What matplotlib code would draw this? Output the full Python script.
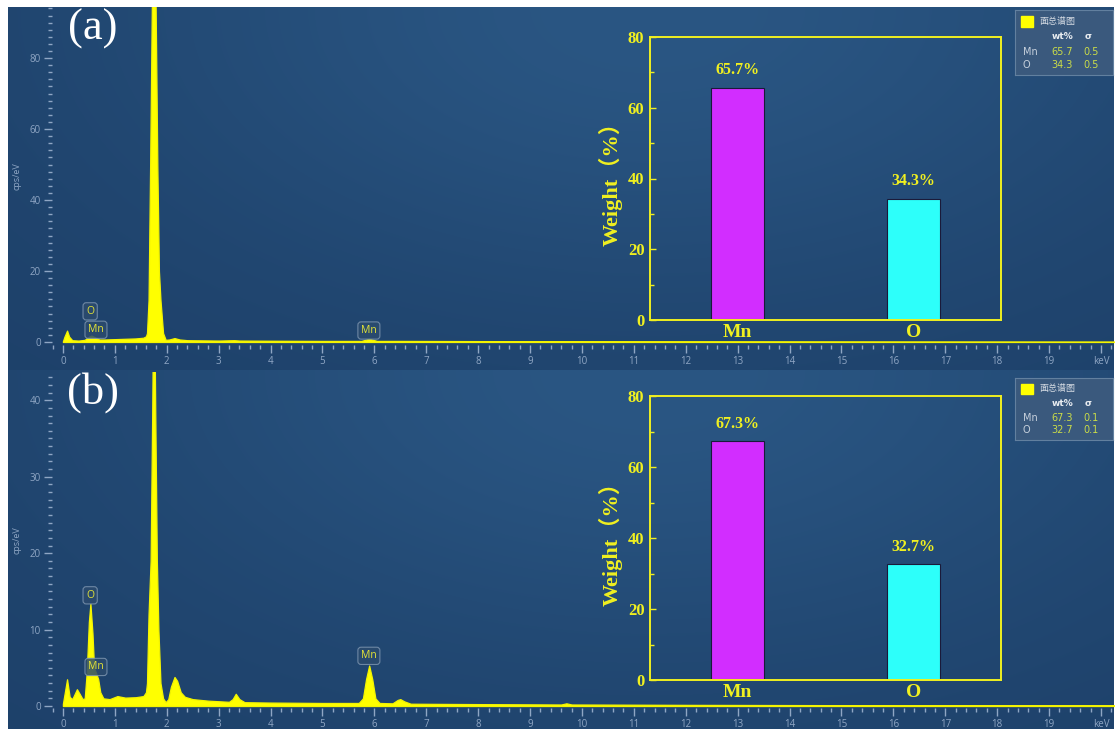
import numpy as np
import matplotlib
matplotlib.use("Agg")
import matplotlib.pyplot as plt
from matplotlib.patches import Rectangle
from matplotlib.ticker import MultipleLocator, FixedLocator

# EDS spectra (energy in keV, intensity in cps/eV), read point by point
energy_a = [0.0, 0.03, 0.08, 0.12, 0.18, 0.30, 0.42, 0.50, 0.55, 0.62, 0.70, 0.80,
            1.00, 1.20, 1.40, 1.55, 1.60, 1.62, 1.65, 1.68, 1.71, 1.75, 1.79, 1.82,
            1.85, 1.88, 1.93, 1.98, 2.05, 2.15, 2.25, 2.40, 3.00, 3.30, 3.40, 4.00,
            5.00, 5.75, 5.90, 6.05, 6.50, 8.00, 10.0, 15.0, 20.3]
counts_a = [0.2, 1.5, 3.2, 1.5, 0.5, 0.4, 0.6, 1.5, 1.8, 1.3, 0.7, 0.7,
            0.8, 0.9, 1.0, 1.2, 1.6, 2.5, 11.8, 49.0, 90.0, 140.0, 90.0, 49.0,
            20.0, 11.8, 2.5, 0.6, 0.7, 1.1, 0.7, 0.5, 0.4, 0.5, 0.4, 0.35,
            0.3, 0.3, 0.9, 0.3, 0.3, 0.25, 0.2, 0.15, 0.1]

energy_b = [0.0, 0.03, 0.08, 0.13, 0.18, 0.27, 0.33, 0.38, 0.42, 0.46, 0.50, 0.53,
            0.57, 0.60, 0.64, 0.68, 0.72, 0.78, 0.90, 1.05, 1.20, 1.40, 1.55, 1.60,
            1.62, 1.65, 1.69, 1.72, 1.75, 1.78, 1.81, 1.84, 1.88, 1.93, 1.98, 2.03,
            2.08, 2.15, 2.20, 2.27, 2.35, 2.50, 2.80, 3.20, 3.27, 3.33, 3.40, 3.50,
            4.00, 5.00, 5.70, 5.78, 5.84, 5.90, 5.96, 6.02, 6.10, 6.35, 6.45, 6.50,
            6.58, 6.70, 8.00, 9.60, 9.70, 9.80, 12.0, 16.0, 20.3]
counts_b = [0.3, 1.5, 3.5, 1.2, 0.9, 2.2, 1.5, 0.9, 1.0, 4.5, 11.0, 13.4,
            9.5, 5.0, 4.3, 3.5, 1.8, 1.0, 0.9, 1.3, 1.1, 1.15, 1.3, 1.8,
            3.0, 12.0, 19.0, 38.0, 60.0, 38.0, 19.0, 10.0, 3.0, 1.0, 0.5, 0.9,
            2.5, 3.8, 3.3, 1.8, 1.2, 0.9, 0.7, 0.55, 0.9, 1.6, 0.9, 0.5,
            0.45, 0.4, 0.4, 1.0, 3.5, 5.3, 3.5, 1.0, 0.4, 0.35, 0.8, 0.9,
            0.6, 0.3, 0.25, 0.2, 0.35, 0.2, 0.15, 0.1, 0.1]

# peak markers: (text, line energy, intensity under the tag, tag lift in pt)
peaks_a = [("O", 0.525, 1.8, 13.5), ("Mn", 0.637, 1.3, 1.5), ("Mn", 5.895, 0.9, 2.0)]
peaks_b = [("O", 0.525, 13.4, 2.0), ("Mn", 0.637, 4.3, 0.5), ("Mn", 5.895, 5.3, 3.0)]

# quantification results
elements = ["Mn", "O"]
wt_a = [65.7, 34.3]
sigma_a = [0.5, 0.5]
wt_b = [67.3, 32.7]
sigma_b = [0.1, 0.1]

kev_ticks = list(range(21))
kev_labels = [str(k) for k in range(20)] + ["keV"]

W, H = 1117, 731
TICK_C = "#8fa6c4"
YELLOW = "#f0f020"
SERIF = "Liberation Serif"
BAR_COLORS = ["#d22dff", "#2dfffa"]

fig = plt.figure(figsize=(W / 100, H / 100), dpi=100, facecolor="white")


def rect(x0, y0, x1, y1):
    return [x0 / W, 1 - y1 / H, (x1 - x0) / W, (y1 - y0) / H]


def draw_background(r):
    bg = fig.add_axes(r, zorder=0)
    xx, yy = np.meshgrid(np.linspace(0, 1, 400), np.linspace(1, 0, 200))
    glow = np.exp(-((xx - 0.58) ** 2 / 0.25 + (yy - 1.0) ** 2 / 0.7))
    dark = np.array([0x1d, 0x40, 0x69]) / 255
    light = np.array([0x2a, 0x56, 0x83]) / 255
    img = dark + (light - dark) * glow[..., None]
    bg.imshow(img, aspect="auto", extent=[0, 1, 0, 1], interpolation="bilinear")
    bg.axis("off")


def draw_spectrum(r, energy, counts, ylim, y_major, y_minor, peaks):
    ax = fig.add_axes(r, zorder=1)
    ax.patch.set_alpha(0)
    ax.fill_between(energy, counts, 0, color="#ffff00", ec="#f4f400", lw=0.9)
    ax.set_xlim(-0.21, 20.25)
    ax.set_ylim(*ylim)
    for s in ax.spines.values():
        s.set_visible(False)
    ax.xaxis.set_major_locator(FixedLocator(kev_ticks))
    ax.set_xticklabels(kev_labels)
    ax.xaxis.set_minor_locator(MultipleLocator(0.2))
    ax.yaxis.set_major_locator(MultipleLocator(y_major))
    ax.yaxis.set_minor_locator(MultipleLocator(y_minor))
    ax.tick_params(which="both", colors=TICK_C, labelcolor=TICK_C, labelsize=7,
                   width=1.0, direction="out", pad=2)
    ax.tick_params(which="major", length=6)
    ax.tick_params(which="minor", length=3)
    for lab in ax.get_xticklabels() + ax.get_yticklabels():
        lab.set_family("Open Sans")
    ax.set_ylabel("cps/eV", fontsize=6.5, color=TICK_C, labelpad=6, family="Open Sans")
    for text, e, h, lift in peaks:
        ax.annotate(text, (e, h), xytext=(0, lift), textcoords="offset points",
                    ha="center", va="bottom", fontsize=7.5, color="#e4e436",
                    family="Open Sans",
                    bbox=dict(boxstyle="round,pad=0.3", fc="#2b4b6e", ec="#7b93ae",
                              lw=0.8, alpha=0.85))
    return ax


def draw_inset(r, weights):
    ax = fig.add_axes(r, zorder=2)
    ax.patch.set_alpha(0)
    x = np.arange(len(elements))
    ax.bar(x, weights, width=0.3, color=BAR_COLORS, edgecolor="#1a1a3a", lw=0.8)
    for xi, w in zip(x, weights):
        ax.annotate(f"{w}%", (xi, w), xytext=(0, 12.5), textcoords="offset points",
                    ha="center", va="center", fontsize=11.5, fontweight="bold",
                    family=SERIF, color=YELLOW)
    ax.set_xlim(-0.5, 1.5)
    ax.set_ylim(0, 80)
    ax.set_xticks(x)
    ax.set_xticklabels(elements)
    ax.yaxis.set_major_locator(MultipleLocator(20))
    ax.yaxis.set_minor_locator(MultipleLocator(10))
    for s in ax.spines.values():
        s.set_color(YELLOW)
        s.set_linewidth(1.4)
    ax.tick_params(axis="y", which="both", direction="in", colors=YELLOW, width=1.0)
    ax.tick_params(axis="y", which="major", length=4, pad=4)
    ax.tick_params(axis="y", which="minor", length=3)
    ax.tick_params(axis="x", length=0, pad=3)
    for lab in ax.get_xticklabels():
        lab.set(fontsize=14, fontweight="bold", family=SERIF, color=YELLOW)
    for lab in ax.get_yticklabels():
        lab.set(fontsize=12, fontweight="bold", family=SERIF, color=YELLOW)
    ax.set_ylabel("Weight（%）", fontsize=16, fontweight="bold", color=YELLOW,
                  family=[SERIF, "Noto Sans CJK SC"], labelpad=4)


def draw_legend(r, weights, sigmas):
    lg = fig.add_axes(r, zorder=3)
    lg.set_xlim(0, 1)
    lg.set_ylim(0, 1)
    lg.set_facecolor("#3d5b7e")
    lg.patch.set_alpha(0.9)
    for s in lg.spines.values():
        s.set_color("#62809f")
        s.set_linewidth(0.8)
    lg.set_xticks([])
    lg.set_yticks([])
    lg.add_patch(Rectangle((0.06, 0.74), 0.12, 0.17, color="#ffff00"))
    lg.text(0.245, 0.825, "面总谱图", fontsize=6.5, color="#d6dce4",
            family=["Noto Sans CJK SC", "DejaVu Sans"], va="center")
    lg.text(0.49, 0.585, "wt%", fontsize=6.5, fontweight="bold", color="#e8ecf0",
            ha="center", va="center")
    lg.text(0.75, 0.585, "σ", fontsize=6.5, fontweight="bold", color="#e8ecf0",
            ha="center", va="center")
    for i, (el, w, sg) in enumerate(zip(elements, weights, sigmas)):
        yy = 0.36 - i * 0.205
        lg.text(0.08, yy, el, fontsize=7, color="#c6d0dc", va="center")
        lg.text(0.48, yy, f"{w}", fontsize=7, color="#cadc48", ha="center", va="center")
        lg.text(0.775, yy, f"{sg}", fontsize=7, color="#cadc48", ha="center", va="center")


# panel (a)
draw_background(rect(8, 7, 1114, 370))
draw_spectrum(rect(52, 7, 1114, 345), energy_a, counts_a, (-0.85, 94.4), 20, 2, peaks_a)
draw_inset(rect(650, 37, 1001, 320), wt_a)
draw_legend(rect(1015, 10, 1113, 75), wt_a, sigma_a)
fig.text(93 / W, 1 - 29 / H, "(a)", fontsize=32, family=SERIF, color="white",
         ha="center", va="center")

# panel (b)
draw_background(rect(8, 370, 1114, 729))
draw_spectrum(rect(52, 372, 1114, 708), energy_b, counts_b, (-0.26, 43.7), 10, 1, peaks_b)
draw_inset(rect(650, 396, 1001, 680), wt_b)
draw_legend(rect(1015, 378, 1113, 440), wt_b, sigma_b)
fig.text(93 / W, 1 - 393 / H, "(b)", fontsize=32, family=SERIF, color="white",
         ha="center", va="center")

fig.savefig("out.png", dpi=100, facecolor="white")
